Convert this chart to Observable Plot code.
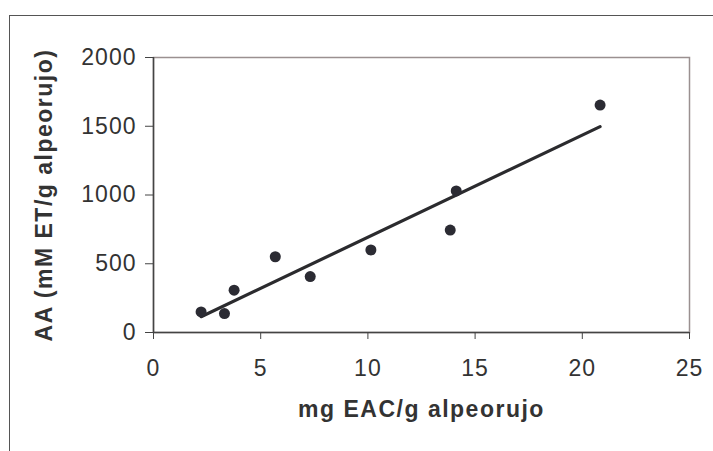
<!DOCTYPE html>
<html>
<head>
<meta charset="utf-8">
<script src="https://cdn.jsdelivr.net/npm/d3@7"></script>
<script src="https://cdn.jsdelivr.net/npm/@observablehq/plot@0.6"></script>
<style>
  html, body { margin: 0; padding: 0; background: #fff; overflow: hidden; }
  #wrap { position: relative; width: 713px; height: 451px; overflow: hidden; }
  #box { position: absolute; left: 9px; top: 15px; width: 760px; height: 500px; border-left: 1.5px solid #555; border-top: 1.5px solid #555; box-sizing: border-box; }
  #chart { position: absolute; left: 0; top: 0; }
  #chart g[aria-label="x-axis tick label"] text,
  #chart g[aria-label="y-axis tick label"] text { letter-spacing: 1px; }
  #chart g[aria-label="text"] text { letter-spacing: 1.5px; }
</style>
</head>
<body>
<div id="wrap"><div id="box"></div><div id="chart"></div></div>
<script>
const xValues = [2.22, 3.31, 3.76, 5.68, 7.31, 10.14, 13.84, 14.12, 20.83];
const yValues = [150, 138, 308, 551, 407, 600, 745, 1030, 1654];
const xTicks = [0, 5, 10, 15, 20, 25];
const yTicks = [0, 500, 1000, 1500, 2000];
const xLabel = "mg EAC/g alpeorujo";
const yLabel = "AA (mM ET/g alpeorujo)";

const data = xValues.map((x, i) => ({x, y: yValues[i]}));

const chart = Plot.plot({
  width: 713,
  height: 451,
  marginLeft: 153,
  marginRight: 24,
  marginTop: 57,
  marginBottom: 119,
  style: {fontFamily: "'Liberation Sans', Arial, sans-serif", fontSize: "23px", color: "#333", background: "transparent", overflow: "visible"},
  x: {domain: [0, 25]},
  y: {domain: [0, 2000]},
  marks: [
    Plot.frame({stroke: "#9a9090", strokeWidth: 1.5}),
    Plot.ruleX([0], {stroke: "#444", strokeWidth: 1.5}),
    Plot.ruleY([0], {stroke: "#444", strokeWidth: 1.5}),
    Plot.axisX({ticks: xTicks, tickFormat: d => String(d), tickSize: 7, tickPadding: 20, label: null, stroke: "#444", fill: "#333", fontSize: 23}),
    Plot.axisY({ticks: yTicks, tickFormat: d => String(d), tickSize: 8, tickPadding: 9, label: null, stroke: "#444", fill: "#333", fontSize: 23}),
    Plot.linearRegressionY(data, {x: "x", y: "y", ci: 0, stroke: "#2b2b2e", strokeWidth: 3.2}),
    Plot.dot(data, {x: "x", y: "y", r: 5.5, fill: "#2b2b33", stroke: "none"}),
    Plot.text([xLabel], {frameAnchor: "bottom", textAnchor: "middle", dy: 84, fontWeight: "bold", fontSize: 23, fill: "#333"}),
    Plot.text([yLabel], {frameAnchor: "left", textAnchor: "middle", dx: -109, rotate: -90, fontWeight: "bold", fontSize: 23, fill: "#333"})
  ]
});
document.getElementById("chart").appendChild(chart);
</script>
</body>
</html>
